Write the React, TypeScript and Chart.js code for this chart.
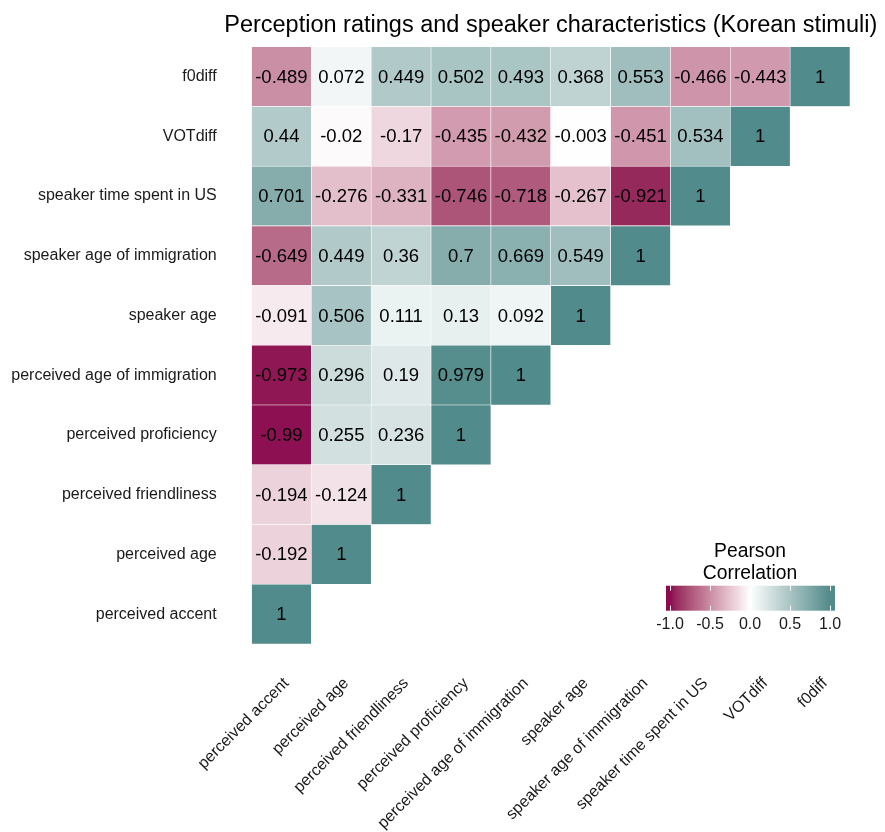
import React, { useEffect, useRef } from 'react';
import { Chart, registerables } from 'chart.js';

Chart.register(...registerables);

// ---------- data ----------
const chartTitle = 'Perception ratings and speaker characteristics (Korean stimuli)';

// variables: index 0 is the bottom row / leftmost column
const variables = [
  'perceived accent',
  'perceived age',
  'perceived friendliness',
  'perceived proficiency',
  'perceived age of immigration',
  'speaker age',
  'speaker age of immigration',
  'speaker time spent in US',
  'VOTdiff',
  'f0diff',
];

// each row: correlations with the variables of columns 0..row
const rowPerceivedAccent = [1];
const rowPerceivedAge = [-0.192, 1];
const rowPerceivedFriendliness = [-0.194, -0.124, 1];
const rowPerceivedProficiency = [-0.99, 0.255, 0.236, 1];
const rowPerceivedAgeOfImmigration = [-0.973, 0.296, 0.19, 0.979, 1];
const rowSpeakerAge = [-0.091, 0.506, 0.111, 0.13, 0.092, 1];
const rowSpeakerAgeOfImmigration = [-0.649, 0.449, 0.36, 0.7, 0.669, 0.549, 1];
const rowSpeakerTimeInUS = [0.701, -0.276, -0.331, -0.746, -0.718, -0.267, -0.921, 1];
const rowVOTdiff = [0.44, -0.02, -0.17, -0.435, -0.432, -0.003, -0.451, 0.534, 1];
const rowF0diff = [-0.489, 0.072, 0.449, 0.502, 0.493, 0.368, 0.553, -0.466, -0.443, 1];

const correlationRows = [
  rowPerceivedAccent,
  rowPerceivedAge,
  rowPerceivedFriendliness,
  rowPerceivedProficiency,
  rowPerceivedAgeOfImmigration,
  rowSpeakerAge,
  rowSpeakerAgeOfImmigration,
  rowSpeakerTimeInUS,
  rowVOTdiff,
  rowF0diff,
];

const legendTitleLines = ['Pearson', 'Correlation'];
const legendTicks = [-1, -0.5, 0, 0.5, 1];
const legendTickLabels = ['-1.0', '-0.5', '0.0', '0.5', '1.0'];

// ---------- colours (Lab interpolation, like ggplot's gradient2) ----------
const LOW = [139, 10, 80];
const MID = [255, 255, 255];
const HIGH = [82, 139, 139];

function toLin(c: number) {
  c /= 255;
  return c <= 0.04045 ? c / 12.92 : Math.pow((c + 0.055) / 1.055, 2.4);
}
function fromLin(c: number) {
  const v = c <= 0.0031308 ? 12.92 * c : 1.055 * Math.pow(c, 1 / 2.4) - 0.055;
  return Math.max(0, Math.min(255, Math.round(v * 255)));
}
const Xn = 0.95047, Yn = 1, Zn = 1.08883;
function f(t: number) {
  return t > 0.008856 ? Math.cbrt(t) : 7.787 * t + 16 / 116;
}
function finv(t: number) {
  const t3 = t * t * t;
  return t3 > 0.008856 ? t3 : (t - 16 / 116) / 7.787;
}
function rgbToLab(rgb: number[]) {
  const r = toLin(rgb[0]), g = toLin(rgb[1]), b = toLin(rgb[2]);
  const X = (0.4124 * r + 0.3576 * g + 0.1805 * b) / Xn;
  const Y = (0.2126 * r + 0.7152 * g + 0.0722 * b) / Yn;
  const Z = (0.0193 * r + 0.1192 * g + 0.9505 * b) / Zn;
  const fx = f(X), fy = f(Y), fz = f(Z);
  return [116 * fy - 16, 500 * (fx - fy), 200 * (fy - fz)];
}
function labToRgb(lab: number[]) {
  const fy = (lab[0] + 16) / 116;
  const fx = fy + lab[1] / 500;
  const fz = fy - lab[2] / 200;
  const X = finv(fx) * Xn, Y = finv(fy) * Yn, Z = finv(fz) * Zn;
  const r = 3.2406 * X - 1.5372 * Y - 0.4986 * Z;
  const g = -0.9689 * X + 1.8758 * Y + 0.0415 * Z;
  const b = 0.0557 * X - 0.204 * Y + 1.057 * Z;
  return [fromLin(r), fromLin(g), fromLin(b)];
}
const labLow = rgbToLab(LOW), labMid = rgbToLab(MID), labHigh = rgbToLab(HIGH);
function colorFor(v: number) {
  const t = Math.min(1, Math.abs(v));
  const end = v < 0 ? labLow : labHigh;
  const lab = [0, 1, 2].map((k) => labMid[k] + (end[k] - labMid[k]) * t);
  const c = labToRgb(lab);
  return `rgb(${c[0]},${c[1]},${c[2]})`;
}

// ---------- layout ----------
const W = 885;
const H = 832;
const FONT = '"Liberation Sans", Arial, Helvetica, sans-serif';

const overlayPlugin = {
  id: 'overlay',
  afterDatasetsDraw(chart: any) {
    const ctx = chart.ctx as CanvasRenderingContext2D;
    const xs = chart.scales.x;
    const ys = chart.scales.y;
    const area = chart.chartArea;
    ctx.save();
    // cell labels
    ctx.fillStyle = '#000';
    ctx.font = `18.5px ${FONT}`;
    ctx.textAlign = 'center';
    ctx.textBaseline = 'middle';
    correlationRows.forEach((row, i) => {
      row.forEach((v, j) => {
        ctx.fillText(String(v), xs.getPixelForValue(j), ys.getPixelForValue(i) + 1);
      });
    });
    // title
    ctx.font = `23.5px ${FONT}`;
    ctx.textBaseline = 'alphabetic';
    ctx.fillStyle = '#000';
    ctx.fillText(chartTitle, (area.left + area.right) / 2, 32);

    // legend
    const barL = 666, barR = 835, barT = 585.7, barB = 610.7;
    const v2x = (v: number) => 670 + (v + 1) * 80;
    const grad = ctx.createLinearGradient(v2x(-1), 0, v2x(1), 0);
    for (let k = 0; k <= 40; k++) {
      const v = -1 + (2 * k) / 40;
      grad.addColorStop(k / 40, colorFor(v));
    }
    ctx.fillStyle = colorFor(-1);
    ctx.fillRect(barL, barT, v2x(-1) - barL, barB - barT);
    ctx.fillStyle = colorFor(1);
    ctx.fillRect(v2x(1), barT, barR - v2x(1), barB - barT);
    ctx.fillStyle = grad;
    ctx.fillRect(v2x(-1), barT, v2x(1) - v2x(-1), barB - barT);
    ctx.strokeStyle = '#fff';
    ctx.lineWidth = 1;
    const tl = (barB - barT) / 5;
    legendTicks.forEach((v) => {
      const x = Math.round(v2x(v)) + 0.5;
      ctx.beginPath();
      ctx.moveTo(x, barT);
      ctx.lineTo(x, barT + tl);
      ctx.moveTo(x, barB - tl);
      ctx.lineTo(x, barB);
      ctx.stroke();
    });
    ctx.fillStyle = '#1a1a1a';
    ctx.font = `16px ${FONT}`;
    ctx.textAlign = 'center';
    ctx.textBaseline = 'middle';
    legendTicks.forEach((v, k) => {
      ctx.fillText(legendTickLabels[k], v2x(v), 625);
    });
    ctx.fillStyle = '#000';
    ctx.font = `19.3px ${FONT}`;
    ctx.fillText(legendTitleLines[0], 750, 552);
    ctx.fillText(legendTitleLines[1], 750, 573.5);
    ctx.restore();
  },
};

export default function App() {
  const ref = useRef<HTMLCanvasElement | null>(null);
  useEffect(() => {
    if (!ref.current) return;
    const datasets = correlationRows.map((row, i) => ({
      label: variables[i],
      data: variables.map((_, j) => (j <= i ? [i - 0.5, i + 0.5] : null)),
      backgroundColor: variables.map((_, j) => (j <= i ? colorFor(row[j]) : 'rgba(0,0,0,0)')),
      borderColor: '#ffffff',
      borderWidth: 0.6,
      borderSkipped: false,
      grouped: false,
      categoryPercentage: 1,
      barPercentage: 1,
    }));
    const chart = new Chart(ref.current, {
      type: 'bar',
      data: { labels: variables, datasets: datasets as any },
      options: {
        responsive: false,
        animation: false,
        events: [],
        layout: { padding: { left: 0, right: 35, top: 46.7, bottom: 0 } },
        plugins: { legend: { display: false }, tooltip: { enabled: false }, title: { display: false } },
        scales: {
          x: {
            type: 'category',
            offset: true,
            grid: { display: false, drawTicks: false },
            border: { display: false },
            ticks: {
              autoSkip: false,
              minRotation: 45,
              maxRotation: 45,
              padding: 30,
              labelOffset: 5,
              color: '#1a1a1a',
              font: { family: FONT, size: 16 },
            },
            afterFit: (s: any) => {
              s.height = H - 644;
            },
          },
          y: {
            type: 'linear',
            min: -0.5,
            max: 9.5,
            grid: { display: false, drawTicks: false },
            border: { display: false },
            afterBuildTicks: (s: any) => {
              s.ticks = variables.map((_, i) => ({ value: i }));
            },
            ticks: {
              autoSkip: false,
              padding: 34.8,
              color: '#1a1a1a',
              font: { family: FONT, size: 16 },
              callback: (v: any) => variables[Number(v)] ?? '',
            },
            afterFit: (s: any) => {
              s.width = 251.5;
            },
          },
        },
      },
      plugins: [overlayPlugin],
    });
    return () => chart.destroy();
  }, []);
  return (
    <div style={{ position: 'absolute', left: 0, top: 0, width: W, height: H, background: '#fff' }}>
      <canvas ref={ref} width={W} height={H} />
    </div>
  );
}
